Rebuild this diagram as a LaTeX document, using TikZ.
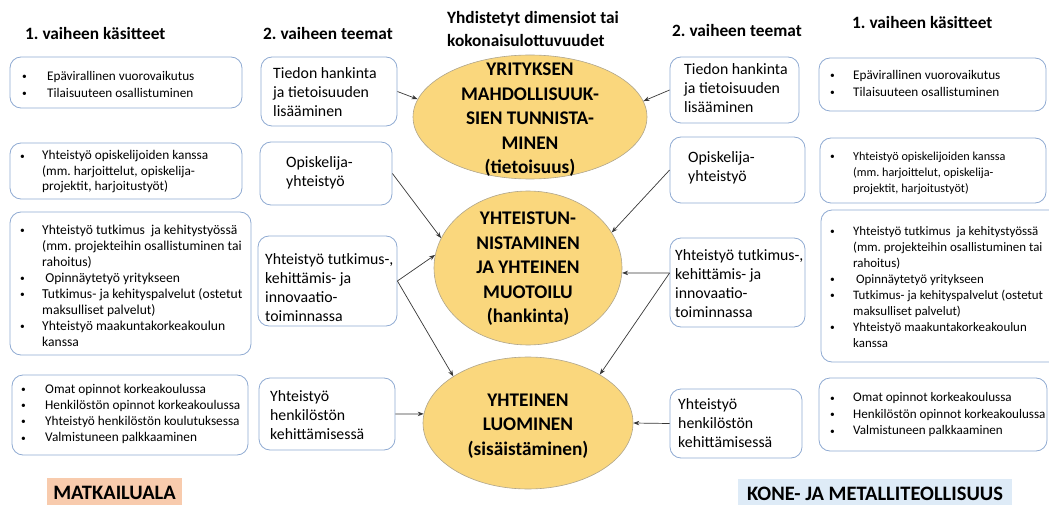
\documentclass[tikz,border=0pt]{standalone}
\usepackage{fontspec}
\setmainfont{Carlito}
\frenchspacing
\usetikzlibrary{arrows.meta,shapes.geometric,fit}

\definecolor{boxline}{RGB}{143,170,210}
\definecolor{ellfill}{RGB}{250,215,125}
\definecolor{ellline}{RGB}{175,165,140}
\definecolor{arrowc}{RGB}{55,55,55}
\definecolor{peach}{RGB}{248,203,173}
\definecolor{paleblue}{RGB}{222,235,247}

% small bullet and hanging indent for the item lists
\newcommand{\bl}[1][23pt]{\makebox[#1][l]{\raisebox{0.9pt}{\fontsize{9.5}{9.5}\selectfont\textbullet}}}
\newcommand{\ind}[1][23pt]{\hspace*{#1}}

\tikzset{
  tbox/.style={draw=boxline, line width=0.8pt, rounded corners=11pt, inner sep=0pt},
  smalltxt/.style={anchor=west, align=left, inner sep=0pt, font=\fontsize{13.3}{16.3}\selectfont},
  themetxt/.style={anchor=west, align=left, inner sep=0pt, font=\fontsize{15.8}{19}\selectfont},
  ell/.style={ellipse, draw=ellline, line width=0.6pt, fill=ellfill, inner sep=0pt},
  elltxt/.style={align=center, inner sep=0pt, font=\bfseries\fontsize{19.3}{24.5}\selectfont},
  head/.style={anchor=west, align=left, inner sep=0pt, font=\bfseries\fontsize{17.3}{23}\selectfont},
  conn/.style={draw=arrowc, line width=0.7pt, -{Stealth[length=6pt,width=4.5pt]}},
  tag/.style={inner sep=0pt, font=\bfseries\fontsize{20.5}{22}\selectfont},
}

\begin{document}
\begin{tikzpicture}[x=1pt, y=-1pt]
\useasboundingbox (0,0) rectangle (1049,505);
\clip (0,0) rectangle (1049,505);

% column headings
\node[head] (h1l) at (25,33) {1. vaiheen käsitteet};
\node[head] (h2l) at (263,33) {2. vaiheen teemat};
\node[head] (hm)  at (447,29) {Yhdistetyt dimensiot tai\\kokonaisulottuvuudet};
\node[head] (h2r) at (672,30) {2. vaiheen teemat};
\node[head] (h1r) at (852,22) {1. vaiheen käsitteet};

% the three combined dimensions
\node[ell, minimum width=234pt, minimum height=124pt] (E1) at (530,117) {};
\node[ell, minimum width=188pt, minimum height=154pt] (E2) at (528,268) {};
\node[ell, minimum width=210pt, minimum height=132pt] (E3) at (528,423) {};
\node[elltxt] (E1t) at (530,120) {YRITYKSEN\\MAHDOLLISUUK-\\SIEN TUNNISTA-\\MINEN\\(tietoisuus)};
\node[elltxt] (E2t) at (528,269) {YHTEISTUN-\\NISTAMINEN\\JA YHTEINEN\\MUOTOILU\\(hankinta)};
\node[elltxt] (E3t) at (528,426) {YHTEINEN\\LUOMINEN\\(sisäistäminen)};

% left: phase 1 concepts
\node[tbox, fit={(10,57) (242,108)}] (A1) {};
\node[smalltxt, font=\fontsize{13.2}{17}\selectfont] (A1t) at (22,84)
  {\bl[25pt]Epävirallinen vuorovaikutus\\\bl[25pt]Tilaisuuteen osallistuminen};
\node[tbox, fit={(10,143) (242,199)}] (A2) {};
\node[smalltxt, font=\fontsize{13.3}{15.5}\selectfont] (A2t) at (20,172)
  {\bl[22pt]Yhteistyö opiskelijoiden kanssa\\\ind[22pt](mm. harjoittelut, opiskelija-\\\ind[22pt]projektit, harjoitustyöt)};
\node[tbox, fit={(10,212) (251,355)}] (A3) {};
\node[smalltxt, font=\fontsize{13.6}{16}\selectfont] (A3t) at (20,286)
  {\bl[22pt]Yhteistyö tutkimus\ \ ja kehitystyössä\\\ind[22pt](mm. projekteihin osallistuminen tai\\\ind[22pt]rahoitus)\\
   \bl[22pt]\ Opinnäytetyö yritykseen\\
   \bl[22pt]Tutkimus-\ ja kehityspalvelut (ostetut\\\ind[22pt]maksulliset palvelut)\\
   \bl[22pt]Yhteistyö maakuntakorkeakoulun\\\ind[22pt]kanssa};
\node[tbox, fit={(12,375) (248,455)}] (A4) {};
\node[smalltxt] (A4t) at (21,414)
  {\bl[24pt]Omat opinnot\ korkeakoulussa\\\bl[24pt]Henkilöstön opinnot\ korkeakoulussa\\
   \bl[24pt]Yhteistyö henkilöstön\ koulutuksessa\\\bl[24pt]Valmistuneen palkkaaminen};

% left: phase 2 themes
\node[tbox, fit={(261,57) (397,126)}] (B1) {};
\node[themetxt] (B1t) at (273,92) {Tiedon hankinta\\ja tietoisuuden\\lisääminen};
\node[tbox, fit={(260,142) (392,205)}] (B2) {};
\node[themetxt] (B2t) at (286,173) {Opiskelija-\\yhteistyö};
\node[tbox, fit={(258,236) (397,326)}] (B3) {};
\node[themetxt] (B3t) at (265,288) {Yhteistyö tutkimus-,\\kehittämis- ja\\innovaatio-\\toiminnassa};
\node[tbox, fit={(259,378) (395,450)}] (B4) {};
\node[themetxt] (B4t) at (270,415) {Yhteistyö\\henkilöstön\\kehittämisessä};

% right: phase 2 themes
\node[tbox, fit={(670,57) (799,123)}] (C1) {};
\node[themetxt] (C1t) at (684,88) {Tiedon hankinta\\ja tietoisuuden\\lisääminen};
\node[tbox, fit={(670,137) (805,203)}] (C2) {};
\node[themetxt] (C2t) at (688,168) {Opiskelija-\\yhteistyö};
\node[tbox, fit={(670,238) (805,327)}] (C3) {};
\node[themetxt] (C3t) at (675,284) {Yhteistyö tutkimus-,\\kehittämis- ja\\innovaatio-\\toiminnassa};
\node[tbox, fit={(670,389) (802,458)}] (C4) {};
\node[themetxt] (C4t) at (678,423) {Yhteistyö\\henkilöstön\\kehittämisessä};

% right: phase 1 concepts
\node[tbox, fit={(819,58) (1046,111)}] (D1) {};
\node[smalltxt, font=\fontsize{13.2}{17}\selectfont] (D1t) at (830,83)
  {\bl Epävirallinen vuorovaikutus\\\bl Tilaisuuteen osallistuminen};
\node[tbox, fit={(820,138) (1046,203)}] (D2) {};
\node[smalltxt, font=\fontsize{12.2}{16}\selectfont] (D2t) at (830,173)
  {\bl Yhteistyö opiskelijoiden\ kanssa\\\ind(mm. harjoittelut, opiskelija-\\\ind projektit, harjoitustyöt)};
\node[tbox, fit={(821,210) (1070,362)}] (D3) {};
\node[smalltxt, font=\fontsize{12.9}{16}\selectfont] (D3t) at (830,287)
  {\bl Yhteistyö tutkimus\ \ ja kehitystyössä\\\ind(mm. projekteihin osallistuminen tai\\\ind rahoitus)\\
   \bl\ Opinnäytetyö yritykseen\\
   \bl Tutkimus-\ ja kehityspalvelut (ostetut\\\ind maksulliset palvelut)\\
   \bl Yhteistyö maakuntakorkeakoulun\\\ind kanssa};
\node[tbox, fit={(819,378) (1047,451)}] (D4) {};
\node[smalltxt, font=\fontsize{13.1}{16.5}\selectfont] (D4t) at (830,415)
  {\bl Omat opinnot\ korkeakoulussa\\\bl Henkilöstön opinnot\ korkeakoulussa\\\bl Valmistuneen palkkaaminen};

% sector labels
\node[tag, fill=peach, minimum width=135pt, minimum height=30pt] (sec1) at (114.5,493) {MATKAILUALA};
\node[tag, fill=paleblue, minimum width=274pt, minimum height=30pt] (sec2) at (875,494) {KONE- JA METALLITEOLLISUUS};

% connectors, left side
\draw[conn] (B1.east) -- (E1.171);
\draw[conn] (B2.east) -- (E2.161);
\draw[conn] (B3.east) -- (E2.172);
\draw[conn] (B3.east) -- (E3.148);
\draw[conn] (B4.east) -- (E3.175);

% connectors, right side
\draw[conn] (C1.west) -- (E1.8.4);
\draw[conn] (C2.west) -- (E2.23);
\draw[conn] (C3.172) -- (E2.-3);
\draw[conn] (C3.172) -- (E3.34);
\draw[conn] (C4.west) -- (E3.east);
\end{tikzpicture}
\end{document}
